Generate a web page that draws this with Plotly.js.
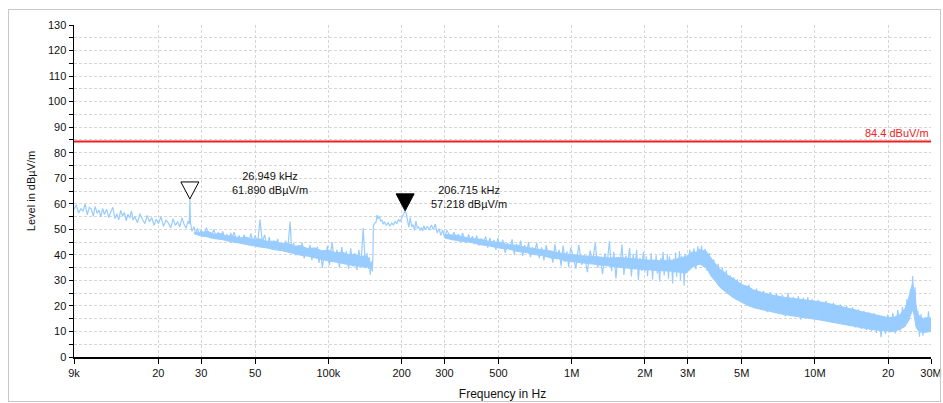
<!DOCTYPE html>
<html>
<head>
<meta charset="utf-8">
<script src="https://cdn.plot.ly/plotly-3.0.1.min.js"></script>
<style>
html, body { margin: 0; padding: 0; background: #fff; }
#wrap { position: relative; width: 943px; height: 403px; }
#chart { position: absolute; left: 0; top: 0; width: 943px; height: 403px; }
#frame { position: absolute; left: 8px; top: 9px; width: 931px; height: 391px;
         border: 1px solid #c8c8c8; pointer-events: none; }
</style>
</head>
<body>
<div id="wrap"><div id="chart"></div><div id="frame"></div></div>
<script>
// Sweep 9 kHz .. 1 MHz (frequency in kHz, level in dBµV/m)
const lowFreqKHz = [
  9.0, 9.2, 9.4, 9.6, 9.8, 10.0, 10.2, 10.4, 10.6, 10.8, 11.0, 11.2, 11.4, 11.6, 11.8,
  12.0, 12.25, 12.5, 12.75, 13.0, 13.25, 13.5, 13.75, 14.0, 14.25, 14.5, 14.75, 15.0, 15.25, 15.5, 15.75,
  16.0, 16.4, 16.8, 17.2, 17.6, 18.0, 18.4, 18.8, 19.2, 19.6,
  20.0, 20.5, 21.0, 21.5, 22.0, 22.5, 23.0, 23.5, 24.0, 24.5, 25.0, 25.5, 26.0, 26.5, 26.8, 26.949, 27.1, 27.5, 28.0, 28.5, 29.0, 29.5,
  30.0, 30.75, 31.5, 32.25, 33.0, 33.75, 34.5, 35.25, 36.0, 36.75, 37.5, 38.25, 39.0, 39.75,
  40, 41, 42, 43, 44, 45, 46, 47, 48, 49,
  50.0, 51.2, 52.3, 53.5, 54.7, 55.9, 57.1, 58.3, 59.5, 60.7, 61.9, 63.1, 64.3, 65.5, 66.7, 67.9, 69.6, 70.5,
  72.0, 73.5, 75.0, 76.5, 78.0, 79.5, 81.0, 82.5, 84.0, 85.5, 87.0, 88.5, 90.0, 91.5, 93.0, 94.5, 96.0, 97.5, 99.0,
  101, 103.5, 106, 108.5, 111, 113.5, 116, 118.5, 121, 123.5, 126, 128.5, 131, 133.5, 136, 139, 140.5, 142, 144, 146, 147.5, 148.5, 150, 151.5, 152.5,
  153, 155, 157, 158.5, 160, 162, 164, 166, 168, 170, 173, 176, 179, 182, 185, 188, 191, 194, 197, 200, 203, 206.715,
  209, 212, 214, 217, 220, 223, 226, 229, 232, 235, 238, 241, 244, 247, 250, 255, 260, 265, 270, 275, 280, 285, 290, 295,
  300, 307, 314, 321, 328, 335, 342, 349, 356, 363, 370, 377, 384, 391, 398,
  407, 416, 425, 434, 443, 452, 461, 470, 479, 488, 497,
  509, 521, 533, 545, 557, 569, 581, 593, 605, 617, 629, 641, 653, 665, 677, 689,
  701, 718, 735, 752, 769, 786, 803, 820, 837, 854, 871, 888, 905, 922, 939, 956, 973, 990
];
const lowLevel = [
  57.8, 59.6, 56.4, 58.0, 57.1, 59.9, 55.7, 58.6, 57.9, 55.2, 59.0, 56.3, 57.5, 54.9, 58.2,
  55.8, 57.9, 54.6, 56.8, 58.6, 54.2, 56.0, 53.7, 57.4, 55.1, 56.6, 53.3, 55.9, 54.4, 57.2, 53.6,
  55.0, 52.6, 56.1, 53.9, 52.2, 55.4, 52.9, 54.6, 51.6, 54.0,
  52.3, 54.9, 51.2, 53.6, 52.4, 50.6, 54.2, 51.5, 53.0, 50.9, 54.5, 52.0, 50.4, 53.3, 52.1, 61.89, 52.6, 49.2, 51.0, 48.1, 50.3, 47.6,
  49.8, 47.2, 50.6, 48.3, 46.6, 49.9, 47.4, 48.8, 45.9, 49.2, 46.8, 48.0, 45.3, 48.6,
  46.2, 48.9, 45.0, 47.6, 44.3, 47.9, 45.6, 43.8, 48.4, 45.1,
  47.6, 44.2, 53.8, 45.0, 47.8, 43.1, 46.9, 42.6, 45.4, 43.9, 46.2, 41.8, 44.9, 42.4, 45.6, 41.2, 53.0, 42.7,
  44.6, 39.8, 43.5, 41.0, 44.8, 38.6, 42.3, 40.2, 43.9, 37.9, 41.7, 39.4, 43.2, 36.8, 41.0, 34.9, 40.6, 38.0, 43.5,
  36.0, 45.0, 37.2, 42.0, 35.0, 43.1, 36.4, 41.4, 34.6, 42.6, 35.5, 40.7, 34.0, 42.0, 35.2, 50.5, 41.0, 34.8, 40.8, 34.5, 39.0, 32.2, 37.5, 33.5, 40.5,
  51.2, 52.4, 52.8, 55.6, 54.0, 55.2, 53.1, 53.7, 52.0, 52.9, 51.6, 52.6, 51.2, 52.4, 51.8, 53.1, 52.2, 53.9, 53.1, 54.3, 55.4, 57.218,
  56.2, 53.4, 50.8, 54.6, 51.0, 51.8, 49.6, 53.2, 50.4, 50.9, 49.5, 50.7, 49.3, 51.4, 49.8, 51.2, 49.6, 51.7, 49.9, 52.0, 48.6, 50.3, 47.6, 49.8,
  46.9, 49.6, 47.4, 45.8, 48.9, 46.5, 48.1, 45.2, 48.6, 46.0, 44.7, 48.0, 45.4, 47.3, 44.2,
  47.5, 43.6, 46.4, 44.9, 47.2, 42.8, 46.6, 43.9, 45.8, 41.9, 46.5,
  42.6, 45.9, 40.8, 44.7, 42.0, 46.1, 40.2, 44.3, 41.5, 45.6, 39.6, 43.8, 41.2, 45.0, 39.1, 43.0,
  40.5, 44.6, 38.7, 42.9, 37.8, 43.8, 39.4, 41.6, 36.9, 44.2, 38.3, 42.0, 35.6, 43.7, 37.1, 41.4, 35.2, 42.8
];

// Dense noise core between 28 kHz and 150 kHz (kHz, dBµV/m)
const lowBandFreqKHz = [28, 30, 32, 34, 36, 38, 40, 43, 46, 49, 52, 56, 60, 64, 68, 72, 77, 82, 88, 94,
                        100, 107, 114, 121, 128, 135, 142, 148];
const lowBandUpper = [48.7, 48.8, 49.2, 48.0, 48.4, 47.3, 47.6, 46.6, 46.9, 46.0, 46.3, 45.2, 45.4, 44.3,
                      44.6, 43.4, 43.6, 42.5, 42.7, 41.6, 41.8, 40.9, 41.0, 40.1, 40.2, 39.4, 39.6, 38.4];
const lowBandLower = [48.3, 47.4, 47.0, 46.3, 46.1, 45.5, 45.1, 44.6, 44.0, 43.6, 43.1, 42.7, 42.0, 41.7,
                      41.0, 40.6, 39.8, 39.5, 38.8, 38.4, 37.6, 37.2, 36.6, 36.3, 35.7, 35.5, 35.0, 35.6];

// Dense noise core between 300 kHz and 3 MHz (kHz, dBµV/m)
const midBandFreqKHz = [300, 340, 380, 420, 460, 500, 550, 600, 650, 700, 760, 820, 880, 940, 1000,
                        1100, 1250, 1400, 1600, 1800, 2000, 2300, 2600, 2950];
const midBandUpper = [48.0, 47.6, 46.5, 46.1, 45.2, 44.9, 44.0, 43.7, 42.9, 42.5, 41.8, 41.5, 40.8, 40.5, 40.0,
                      39.6, 39.4, 38.8, 38.9, 38.3, 38.0, 37.8, 37.9, 39.4];
const midBandLower = [46.6, 45.5, 45.0, 44.0, 43.5, 42.7, 42.3, 41.3, 40.9, 40.1, 39.7, 38.8, 38.5, 37.7, 37.4,
                      36.9, 36.2, 35.6, 35.0, 34.6, 34.2, 33.8, 33.6, 32.8];

// Sweep 1 MHz .. 30 MHz (frequency in MHz, level in dBµV/m)
const highFreqMHz = [
  1.01, 1.04, 1.07, 1.10, 1.13, 1.16, 1.19, 1.22, 1.25, 1.28, 1.31, 1.34, 1.37, 1.40, 1.43, 1.46, 1.49,
  1.52, 1.55, 1.58, 1.61, 1.64, 1.67, 1.70, 1.73, 1.76, 1.79, 1.82, 1.85, 1.88, 1.91, 1.94, 1.97,
  2.000, 2.025, 2.050, 2.075, 2.100, 2.125, 2.150, 2.175, 2.200, 2.225, 2.250, 2.275, 2.300, 2.325, 2.350, 2.375,
  2.400, 2.425, 2.450, 2.475, 2.500, 2.525, 2.550, 2.575, 2.600, 2.625, 2.650, 2.675, 2.700, 2.725, 2.750, 2.775,
  2.800, 2.825, 2.850, 2.875, 2.900, 2.925, 2.950, 2.975,
  3.00, 3.06, 3.12, 3.18, 3.24, 3.30, 3.36, 3.42, 3.48, 3.54, 3.60,
  3.68, 3.76, 3.84, 3.92, 4.00, 4.08, 4.16, 4.24, 4.32, 4.40, 4.48, 4.56, 4.64, 4.72, 4.80, 4.88, 4.96,
  5.15, 5.35, 5.55, 5.75, 5.95, 6.15, 6.35, 6.55, 6.75, 6.95, 7.15, 7.35, 7.55, 7.75, 7.95, 8.15, 8.35,
  8.55, 8.75, 8.95, 9.15, 9.35, 9.55, 9.75, 9.95,
  10.3, 10.7, 11.1, 11.5, 11.9, 12.3, 12.7, 13.1, 13.5, 13.9, 14.3, 14.7, 15.1, 15.5, 15.9, 16.3, 16.7,
  17.1, 17.5, 17.9, 18.3, 18.7, 19.1, 19.5, 19.9,
  20.4, 20.9, 21.4, 21.9, 22.4, 22.9, 23.4, 23.9, 24.3, 24.7, 25.0, 25.2, 25.5, 25.8, 26.1, 26.5,
  26.9, 27.3, 27.8, 28.3, 28.8, 29.3, 29.7, 30.0
];
const highLevel = [
  40.2, 34.6, 43.9, 36.1, 39.8, 33.2, 41.7, 37.3, 44.6, 35.0, 39.1, 32.4, 40.6, 36.8, 45.3, 33.6, 41.2,
  30.8, 38.9, 35.4, 44.0, 32.1, 39.7, 36.2, 42.8, 31.5, 40.4, 34.3, 41.9, 30.2, 38.8, 33.7, 41.1,
  33.5, 39.4, 31.6, 37.8, 35.2, 40.6, 30.4, 38.1, 34.0, 39.8, 32.7, 36.9, 29.6, 38.8, 35.5, 41.2,
  31.9, 37.4, 33.8, 40.1, 30.7, 39.3, 34.6, 37.0, 28.8, 38.5, 33.1, 40.9, 31.4, 38.0, 35.8, 41.5,
  30.1, 39.6, 33.4, 37.6, 27.9, 40.4, 34.2, 38.7,
  33.9, 42.1, 35.2, 42.6, 34.4, 43.3, 36.1, 43.6, 35.3, 42.4, 33.8,
  40.7, 31.6, 38.2, 29.5, 36.5, 28.0, 35.1, 26.4, 33.9, 25.6, 32.0, 24.1, 31.2, 23.3, 30.4, 22.6, 29.1,
  21.4, 28.3, 20.3, 26.8, 19.7, 25.9, 17.6, 25.4, 18.2, 24.9, 17.4, 24.4, 15.9, 25.1, 16.3, 23.6, 17.0,
  23.9, 14.6, 23.2, 16.1, 23.5, 15.4, 22.7, 15.0,
  22.4, 14.6, 22.0, 14.1, 21.2, 13.5, 20.6, 12.9, 19.9, 12.3, 19.4, 11.6, 18.7, 11.0, 18.1, 10.6, 17.5,
  10.2, 17.2, 9.4, 16.4, 7.8, 16.0, 8.9, 16.6,
  9.6, 17.2, 9.2, 18.4, 10.3, 19.6, 11.8, 22.7, 14.2, 26.5, 18.5, 31.7, 21.0, 27.3, 13.4, 18.0,
  7.9, 16.8, 8.3, 15.6, 9.6, 17.9, 10.4, 15.5
];

// Dense noise band (upper / lower envelope) above 3 MHz
const bandFreqMHz = [2.95, 3.05, 3.15, 3.25, 3.35, 3.45, 3.55, 3.65, 3.75, 3.9, 4.05, 4.2, 4.4, 4.6, 4.8, 5.0,
                     5.3, 5.6, 6.0, 6.4, 6.8, 7.3, 7.8, 8.4, 9.0, 9.7, 10.5, 11.3, 12.2, 13.2, 14.3, 15.5,
                     16.8, 18.2, 19.6, 21.0, 22.3, 23.4, 24.2, 24.8, 25.2, 25.6, 26.0, 26.5, 27.2, 28.0, 29.0, 30.0];
const bandUpper = [39.4, 40.3, 41.2, 41.0, 42.2, 41.6, 41.8, 40.1, 38.6, 36.3, 34.5, 33.6, 31.9, 30.8, 29.6, 28.4,
                   27.6, 26.2, 25.4, 24.6, 24.1, 23.5, 23.2, 22.8, 22.5, 22.1, 21.6, 21.0, 20.3, 19.5, 18.7, 17.8,
                   17.0, 16.2, 15.6, 15.4, 16.5, 18.8, 22.5, 26.5, 28.8, 26.0, 20.5, 16.8, 15.6, 15.0, 15.4, 15.2];
const bandLower = [32.8, 34.0, 35.3, 35.8, 36.4, 35.9, 35.1, 33.6, 31.5, 29.7, 27.5, 26.2, 24.6, 23.3, 22.3, 21.3,
                   20.2, 19.3, 18.6, 18.0, 17.4, 16.8, 16.3, 15.9, 15.6, 15.0, 14.5, 13.9, 13.3, 12.6, 12.0, 11.4,
                   10.9, 10.5, 10.2, 10.0, 10.8, 11.9, 14.0, 16.5, 18.5, 16.2, 12.0, 10.4, 9.8, 9.6, 9.9, 10.0];

// Limit line
const limitFreq = [9e3, 30e6];
const limitLevel = [84.4, 84.4];
const limitLabel = '84.4 dBuV/m';

// Markers
const markerFreq = [26949, 206715];
const markerLevel = [61.890, 57.218];
const markerFilled = [false, true];

// Axis ticks
const xTickVals = [9e3, 2e4, 3e4, 5e4, 1e5, 2e5, 3e5, 5e5, 1e6, 2e6, 3e6, 5e6, 1e7, 2e7, 3e7];
const xTickText = ['9k', '20', '30', '50', '100k', '200', '300', '500', '1M', '2M', '3M', '5M', '10M', '20', '30M'];

const traceColor = '#99ccff';
const FONT = 'Liberation Sans, Arial, sans-serif';

const sweepX = lowFreqKHz.map(f => f * 1e3).concat(highFreqMHz.map(f => f * 1e6));
const sweepY = lowLevel.concat(highLevel);

function bandPair(x, lower, upper) {
  return [
    { x: x, y: lower, type: 'scatter', mode: 'lines',
      line: { color: traceColor, width: 1 }, hoverinfo: 'skip', showlegend: false },
    { x: x, y: upper, type: 'scatter', mode: 'lines', fill: 'tonexty',
      fillcolor: traceColor, line: { color: traceColor, width: 1 }, hoverinfo: 'skip', showlegend: false }
  ];
}

const traces = [].concat(
  bandPair(lowBandFreqKHz.map(f => f * 1e3), lowBandLower, lowBandUpper),
  bandPair(midBandFreqKHz.map(f => f * 1e3), midBandLower, midBandUpper),
  bandPair(bandFreqMHz.map(f => f * 1e6), bandLower, bandUpper),
  [
    { x: sweepX, y: sweepY, type: 'scatter', mode: 'lines',
      line: { color: traceColor, width: 1.2 }, showlegend: false },
    { x: limitFreq, y: limitLevel, type: 'scatter', mode: 'lines',
      line: { color: '#ee2222', width: 2 }, showlegend: false }
  ]
);

// Marker triangles, tip on the measured point
const shapes = markerFreq.map((f, i) => ({
  type: 'path', xref: 'x', yref: 'y',
  xsizemode: 'pixel', ysizemode: 'pixel',
  xanchor: f, yanchor: markerLevel[i],
  path: 'M -9 17 L 9 17 L 0 0 Z',
  fillcolor: markerFilled[i] ? '#000' : '#fff',
  line: { color: '#000', width: 1 }
}));

const markerShift = [[80, 16], [64, 14]];
const annotations = markerFreq.map((f, i) => ({
  x: Math.log10(f), y: markerLevel[i], xref: 'x', yref: 'y',
  text: (f / 1000).toFixed(3) + ' kHz<br>' + markerLevel[i].toFixed(3) + ' dBµV/m',
  showarrow: false, xanchor: 'center', yanchor: 'middle',
  xshift: markerShift[i][0], yshift: markerShift[i][1],
  font: { family: FONT, size: 11, color: '#111' }
}));
annotations.push({
  x: Math.log10(limitFreq[1]), y: limitLevel[1], xref: 'x', yref: 'y',
  text: limitLabel, showarrow: false, xanchor: 'right', yanchor: 'bottom',
  font: { family: FONT, size: 11, color: '#ee2222' }
});

const gridColor = '#d6d6d6';
const layout = {
  width: 943, height: 403,
  margin: { l: 74, r: 12, t: 25, b: 46 },
  paper_bgcolor: '#fff', plot_bgcolor: '#fff',
  font: { family: FONT, size: 11, color: '#111' },
  showlegend: false,
  xaxis: {
    type: 'log', range: [Math.log10(9e3), Math.log10(3e7)],
    tickmode: 'array', tickvals: xTickVals, ticktext: xTickText,
    showgrid: true, gridcolor: gridColor, griddash: '3px,2px', gridwidth: 1,
    showline: true, linecolor: '#000', linewidth: 1.5,
    ticks: 'outside', ticklen: 5, tickcolor: '#000', tickwidth: 1,
    zeroline: false,
    tickfont: { family: FONT, size: 11, color: '#111' },
    title: { text: 'Frequency in Hz', font: { family: FONT, size: 12, color: '#111' }, standoff: 12 }
  },
  yaxis: {
    range: [0, 130], tickmode: 'linear', tick0: 0, dtick: 10,
    showgrid: true, gridcolor: gridColor, griddash: '3px,2px', gridwidth: 1,
    showline: true, linecolor: '#000', linewidth: 1.5,
    ticks: 'outside', ticklen: 4, tickcolor: '#000', tickwidth: 1,
    minor: { dtick: 5, tick0: 0, ticks: 'outside', ticklen: 4, tickcolor: '#000',
             showgrid: true, gridcolor: gridColor, griddash: '3px,2px' },
    zeroline: false,
    tickfont: { family: FONT, size: 11, color: '#111' },
    title: { text: 'Level in dBµV/m', font: { family: FONT, size: 11, color: '#111' }, standoff: 10 }
  },
  shapes: shapes,
  annotations: annotations
};

Plotly.newPlot('chart', traces, layout, { staticPlot: true });
</script>
</body>
</html>
